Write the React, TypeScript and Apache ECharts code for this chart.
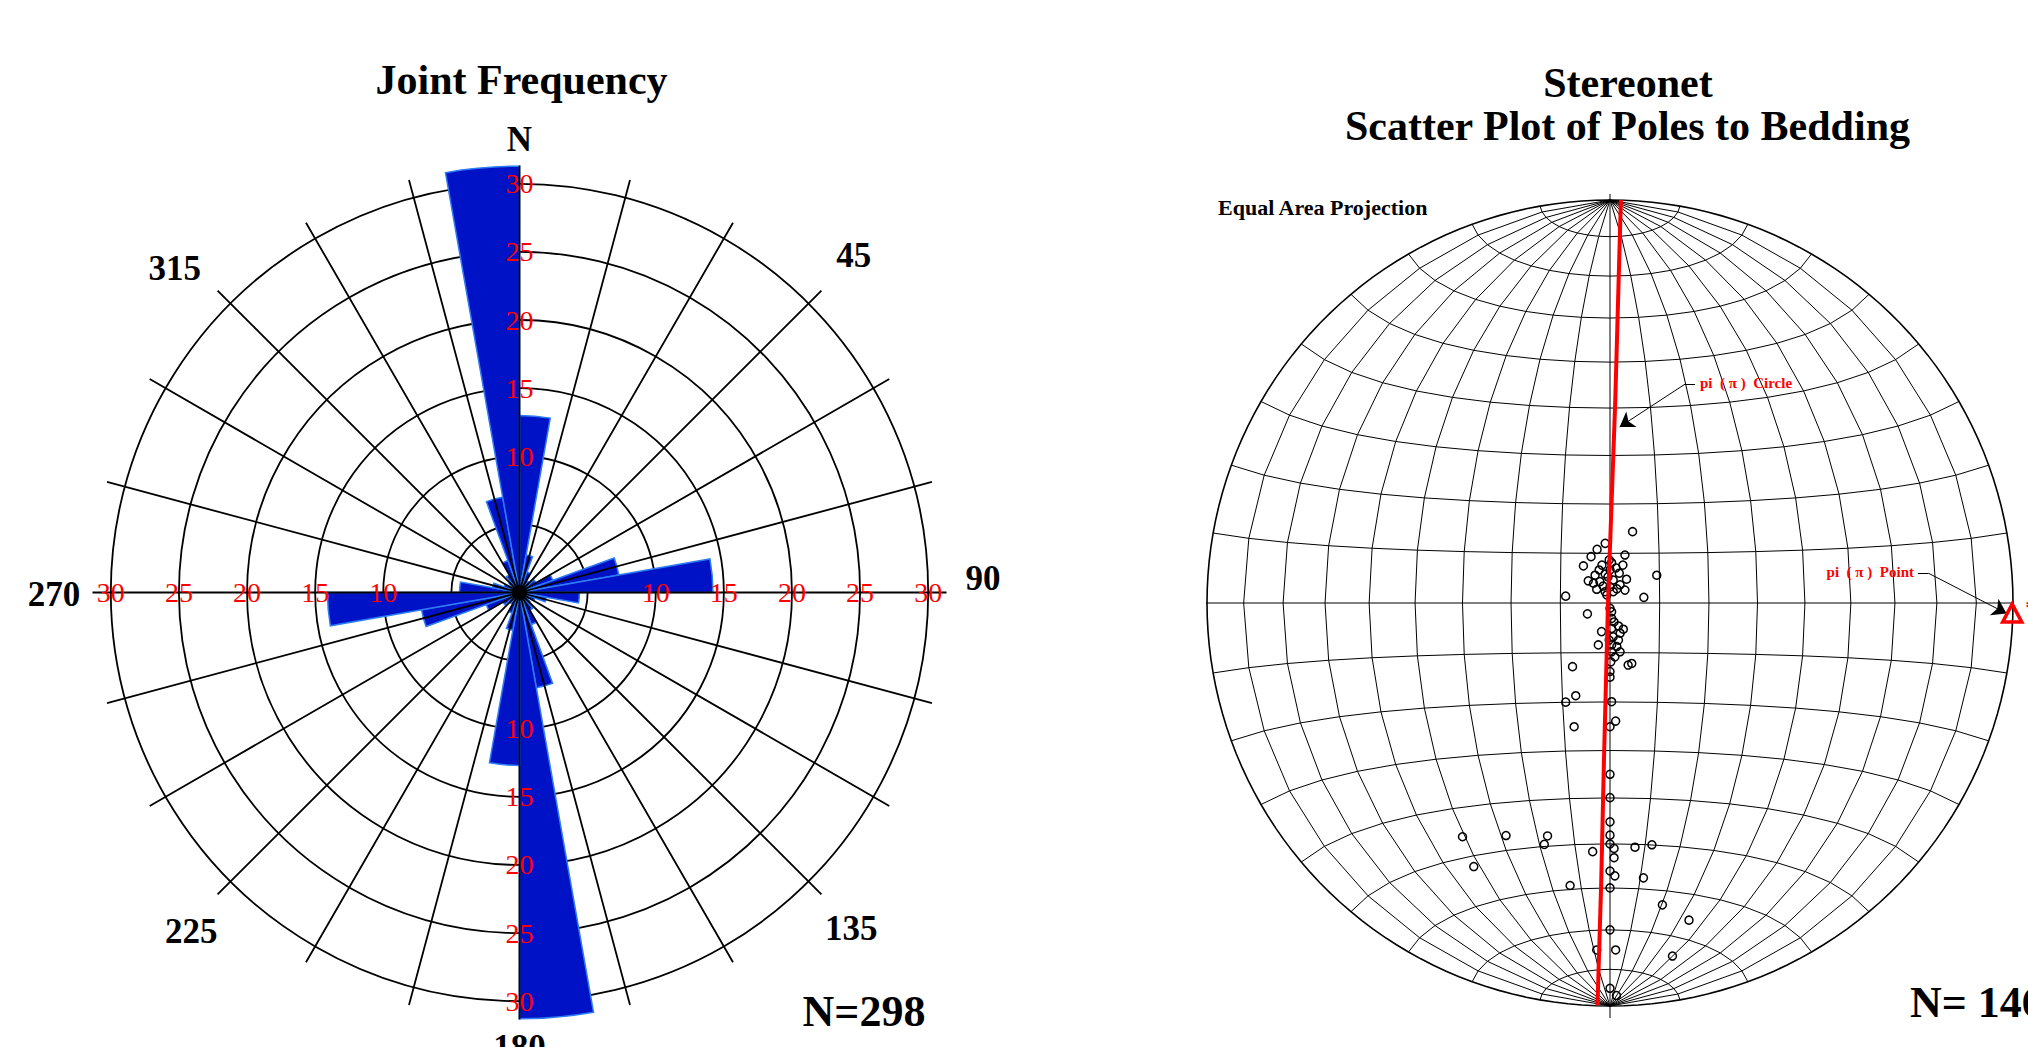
import React, { useEffect, useRef } from 'react';
import * as echarts from 'echarts';

// ---------------- Rose diagram data ----------------
const roseBins: string[] = [];
for (let a = 0; a < 360; a += 10) roseBins.push(`${a}-${a + 10}`);
const roseValues = [
  13.0, 2.8, 1.6, 1.0, 1.0, 1.4, 2.6, 7.4, 14.2,
  4.4, 2.0, 1.2, 0.8, 1.0, 1.5, 2.5, 7.1, 31.3,
  12.7, 2.8, 1.6, 1.0, 1.0, 1.4, 2.6, 7.3, 14.1,
  4.4, 2.0, 1.2, 0.8, 1.0, 1.5, 2.5, 7.1, 31.3,
];
const ringLabelValues = [10, 15, 20, 25, 30];
const ringLabelAngles = [0, 90, 180, 270];
const directionLabels = ['N', '45', '90', '135', '180', '225', '270', '315'];
// layout of the direction labels (radius in axis units, angle in degrees)
const directionRadii = [33.25, 34.82, 34.05, 34.68, 33.4, 34.63, 34.18, 34.72];
const directionAngles = [0, 44.8, 88.3, 135.4, 180, 224.1, 269.7, 313.2];
const roseCount = 'N=298';

// ---------------- Stereonet data (net coords, % of primitive radius) ----------------
const poleX = [
  5.6, -1.2, -3.2, -4.7, 3.7, -6.6, 3.2, 0.4, -0.2, -2.0, -2.7, 0, 1.5, 2.3, -3.7, -1.2, -0.5,
  4.1, 11.6, -5.4, -4.1, -2.5, 0.8, 2.5, -1.7, 0, 1.7, 3.7, -3.3, -1.2, 0.8, -11.0, 8.4, -0.8,
  0, 0.4, -5.6, 0.4, 1.0, 2.1, 3.3, 0.4, -2.1, 2.5, 0.8, -0.2, 2.1, -2.9, 0.4, 1.7, 2.5, 0.4,
  1.2, 0.2, 5.4, 4.5, -9.3, 0, 0,
  -8.5, -11.0, 0.4, 1.4, -8.9, 0, 0, 0, 0, -36.6, -33.8, -25.8, -15.5, -16.3, 0, 0, 1.0, -4.3,
  6.2, 10.4, 1.0, 0, 1.2, 8.3, -9.9, 0, 13.0, 19.6, 0, -3.3, 1.4, 15.5, 0, 1.6,
];
const poleY = [
  17.7, 14.8, 13.3, 11.5, 11.9, 9.2, 9.4, 10.0, 10.7, 9.4, 8.2, 8.2, 8.7, 7.4, 6.9, 7.2, 6.5,
  5.9, 6.9, 5.5, 4.9, 5.3, 5.7, 4.5, 4.2, 4.0, 3.5, 3.2, 3.4, 2.8, 2.8, 1.7, 1.4, 2.0,
  -1.3, -2.2, -2.7, -3.8, -4.7, -5.7, -6.5, -6.3, -7.1, -7.5, -8.4, -9.2, -9.2, -10.4, -10.4, -10.8, -12.1, -12.1,
  -13.4, -14.6, -15.0, -15.4, -15.8, -17.0, -18.4,
  -23.0, -24.6, -24.5, -29.3, -30.7, -30.7, -42.5, -48.3, -54.3, -58.0, -65.4, -57.7, -57.8, -59.9, -57.6, -59.8, -60.9, -61.7,
  -60.6, -60.0, -63.2, -66.5, -67.7, -68.2, -70.1, -70.7, -74.9, -78.7, -81.1, -86.1, -86.1, -87.6, -95.6, -97.4,
];
const piCircleX = [2.7, 1.3, -0.5, -1.5, -2.2, -3.1];
const piCircleY = [100, 50, 0, -39.0, -70.0, -99.8];
const piPoint = [99.8, -2.5];
const stereoCount = 'N= 146';

// ---------------- helpers ----------------
const SERIF = '"Liberation Serif", "Times New Roman", serif';

function schmidt(lonDeg: number, latDeg: number): number[] {
  const l = (lonDeg * Math.PI) / 180;
  const p = (latDeg * Math.PI) / 180;
  const k = Math.sqrt(2 / (1 + Math.cos(p) * Math.cos(l)));
  return [(100 * k * Math.cos(p) * Math.sin(l)) / Math.SQRT2, (100 * k * Math.sin(p)) / Math.SQRT2];
}

function netLine(data: number[][], width = 1): any {
  return {
    type: 'line',
    xAxisIndex: 0,
    yAxisIndex: 0,
    data,
    symbol: 'none',
    silent: true,
    clip: false,
    lineStyle: { color: '#000', width },
    z: 1,
  };
}

function buildOption(): any {
  const series: any[] = [];

  // ---- rose bars ----
  series.push({
    type: 'bar',
    coordinateSystem: 'polar',
    polarIndex: 2,
    data: roseValues,
    barCategoryGap: '0%',
    itemStyle: { color: '#0012c6', borderColor: '#2d7bf5', borderWidth: 1.5, opacity: 1 },
    z: 2,
  });

  // ---- ring labels ----
  const ringData: any[] = [];
  ringLabelAngles.forEach((a) => ringLabelValues.forEach((r) => ringData.push([r, a])));
  series.push({
    type: 'scatter',
    coordinateSystem: 'polar',
    polarIndex: 0,
    data: ringData,
    symbolSize: 1,
    itemStyle: { color: 'rgba(0,0,0,0)', opacity: 1 },
    silent: true,
    label: {
      show: true,
      position: 'inside',
      formatter: (p: any) => String(p.value[0]),
      color: '#ff0000',
      opacity: 1,
      fontSize: 28,
      fontFamily: SERIF,
      textBorderWidth: 0,
      textBorderColor: 'transparent',
    },
    z: 10,
  });

  // ---- direction labels ----
  series.push({
    type: 'scatter',
    coordinateSystem: 'polar',
    polarIndex: 3,
    data: directionLabels.map((t, i) => ({ name: t, value: [directionRadii[i], directionAngles[i]] })),
    symbolSize: 1,
    itemStyle: { color: 'rgba(0,0,0,0)', opacity: 1 },
    silent: true,
    label: {
      show: true,
      position: 'inside',
      formatter: '{b}',
      color: '#000000',
      opacity: 1,
      fontSize: 35,
      fontWeight: 'bold',
      fontFamily: SERIF,
      textBorderWidth: 0,
      textBorderColor: 'transparent',
    },
    z: 10,
  });

  // ---- stereonet grid ----
  for (let lon = -80; lon <= 80; lon += 10) {
    if (lon === 0) continue;
    const pts: number[][] = [];
    for (let lat = -90; lat <= 90; lat += 10) pts.push(schmidt(lon, lat));
    series.push(netLine(pts));
  }
  for (let lat = -80; lat <= 80; lat += 10) {
    if (lat === 0) continue;
    const pts: number[][] = [];
    for (let lon = -90; lon <= 90; lon += 10) pts.push(schmidt(lon, lat));
    series.push(netLine(pts));
  }
  const prim: number[][] = [];
  for (let a = 0; a <= 360; a += 2) {
    prim.push([100 * Math.cos((a * Math.PI) / 180), 100 * Math.sin((a * Math.PI) / 180)]);
  }
  series.push(netLine(prim, 1.6));
  series.push(netLine([[-102.7, 0], [103, 0]]));
  series.push(netLine([[0, 101.5], [0, -103]]));

  // ---- poles ----
  series.push({
    type: 'scatter',
    xAxisIndex: 0,
    yAxisIndex: 0,
    data: poleX.map((x, i) => [x, poleY[i]]),
    symbol: 'circle',
    symbolSize: 8,
    clip: false,
    itemStyle: { color: 'rgba(255,255,255,0)', borderColor: '#000', borderWidth: 1.5, opacity: 1 },
    z: 3,
  });

  // ---- pi circle ----
  series.push({
    type: 'line',
    xAxisIndex: 0,
    yAxisIndex: 0,
    data: piCircleX.map((x, i) => [x, piCircleY[i]]),
    symbol: 'none',
    clip: false,
    lineStyle: { color: '#ff0000', width: 4 },
    z: 4,
  });

  // ---- pi point ----
  series.push({
    type: 'scatter',
    xAxisIndex: 0,
    yAxisIndex: 0,
    data: [piPoint],
    symbol: 'triangle',
    symbolSize: [19, 18],
    clip: false,
    itemStyle: { color: 'rgba(0,0,0,0)', borderColor: '#ff0000', borderWidth: 3.5, opacity: 1 },
    label: {
      show: true,
      position: 'right',
      formatter: '*',
      color: '#ff0000',
      opacity: 1,
      fontSize: 18,
      fontWeight: 'bold',
      fontFamily: SERIF,
      offset: [-3, -5],
      textBorderWidth: 0,
    },
    z: 5,
  });

  // ---- leader lines (short horizontal ticks) ----
  series.push({
    type: 'lines',
    coordinateSystem: 'cartesian2d',
    xAxisIndex: 0,
    yAxisIndex: 0,
    data: [
      { coords: [[21.1, 54.3], [18.6, 54.3]] },
      { coords: [[76.4, 7.4], [79.0, 7.4]] },
    ],
    symbol: ['none', 'none'],
    lineStyle: { color: '#000', width: 1, opacity: 1 },
    silent: true,
    z: 5,
  });
  // ---- leader arrows ----
  series.push({
    type: 'lines',
    coordinateSystem: 'cartesian2d',
    xAxisIndex: 0,
    yAxisIndex: 0,
    data: [
      { coords: [[18.6, 54.3], [2.4, 43.7]] },
      { coords: [[79.0, 7.4], [98.4, -2.6]] },
    ],
    symbol: ['none', 'arrow'],
    symbolSize: [9, 14],
    lineStyle: { color: '#000', width: 1, opacity: 1 },
    silent: true,
    z: 5,
  });

  const txt = (text: string, x: number, y: number, size: number, opts: any = {}) => ({
    type: 'text',
    x,
    y,
    silent: true,
    z: 20,
    style: {
      text,
      fill: opts.fill || '#000',
      fontSize: size,
      fontWeight: opts.weight || 'bold',
      fontFamily: SERIF,
      align: opts.align || 'center',
      textAlign: opts.align || 'center',
      verticalAlign: 'middle',
      textVerticalAlign: 'middle',
    },
  });

  const C = [519.5, 592.5];
  return {
    animation: false,
    backgroundColor: '#ffffff',
    polar: [
      { center: C, radius: 408.7 },
      { center: C, radius: 427 },
      { center: C, radius: 427 },
      { center: C, radius: 476.7 },
    ],
    angleAxis: [
      { polarIndex: 0, type: 'value', min: 0, max: 360, startAngle: 90, clockwise: true, show: false },
      {
        polarIndex: 1,
        type: 'value',
        min: 0,
        max: 360,
        interval: 15,
        startAngle: 90,
        clockwise: true,
        axisLine: { show: false },
        axisTick: { show: false },
        axisLabel: { show: false },
        splitLine: { show: true, lineStyle: { color: '#000', width: 1.8 } },
        z: 6,
      },
      { polarIndex: 2, type: 'category', data: roseBins, startAngle: 90, clockwise: true, show: false },
      { polarIndex: 3, type: 'value', min: 0, max: 360, startAngle: 90, clockwise: true, show: false },
    ],
    radiusAxis: [
      {
        polarIndex: 0,
        type: 'value',
        min: 0,
        max: 30,
        interval: 5,
        axisLine: { show: false },
        axisTick: { show: false },
        axisLabel: { show: false },
        splitLine: { show: true, lineStyle: { color: '#000', width: 1.8 } },
        z: 0,
      },
      { polarIndex: 1, type: 'value', min: 0, max: 31.35, show: false },
      { polarIndex: 2, type: 'value', min: 0, max: 31.35, show: false },
      { polarIndex: 3, type: 'value', min: 0, max: 35, show: false },
    ],
    grid: [{ left: 1207, top: 200, width: 806, height: 806, show: false }],
    xAxis: [{ type: 'value', min: -100, max: 100, show: false, gridIndex: 0 }],
    yAxis: [{ type: 'value', min: -100, max: 100, show: false, gridIndex: 0 }],
    series,
    graphic: [
      txt('Joint Frequency', 521.5, 80, 42),
      txt(roseCount, 864, 1011, 44),
      txt('Stereonet', 1628, 83, 42),
      txt('Scatter Plot of Poles to Bedding', 1627.5, 125.5, 42),
      txt('Equal Area Projection', 1218, 207, 22, { align: 'left' }),
      txt('pi  ( π )  Circle', 1700, 383, 15, { align: 'left', fill: '#ff0000' }),
      txt('pi  ( π )  Point', 1914, 572, 15, { align: 'right', fill: '#ff0000' }),
      txt(stereoCount, 1910, 1002, 44, { align: 'left' }),
    ],
  };
}

export default function App() {
  const ref = useRef<HTMLDivElement>(null);
  useEffect(() => {
    document.body.style.margin = '0';
    document.body.style.overflow = 'hidden';
    if (!ref.current) return;
    const chart = echarts.init(ref.current, undefined, { renderer: 'svg' });
    chart.setOption(buildOption());
    return () => chart.dispose();
  }, []);
  return <div ref={ref} style={{ width: 2028, height: 1047 }} />;
}
